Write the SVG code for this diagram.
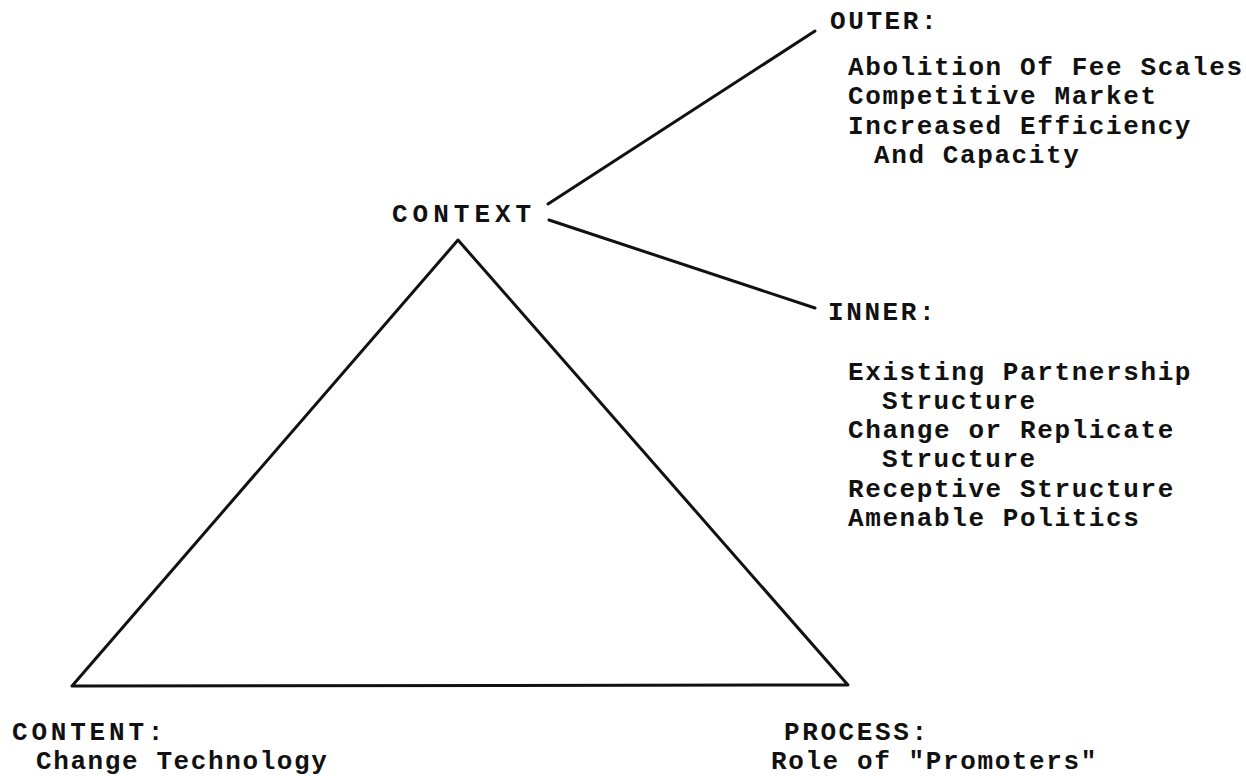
<svg xmlns="http://www.w3.org/2000/svg" width="1246" height="776" viewBox="0 0 1246 776">
<style>
text{font-family:"Liberation Mono","DejaVu Sans Mono",monospace;font-size:26px;font-weight:bold;fill:#111;letter-spacing:1.6px}
.h{letter-spacing:2.6px}
.h2{letter-spacing:3.8px}
.ctx{letter-spacing:5px}
.ln{fill:none;stroke:#111;stroke-width:3;stroke-linecap:round;stroke-linejoin:round}
</style>
<rect width="1246" height="776" fill="#fff"/>
<g id="connectors">
<path class="ln" d="M548,204 L815,31"/>
<path class="ln" d="M549,220 L815,308"/>
</g>
<g id="triangle">
<path class="ln" d="M458,240 L72,686 L848,685 Z"/>
</g>
<g id="context"><text class="ctx" x="392" y="222">CONTEXT</text></g>
<g id="outer">
<text class="h" x="830" y="29">OUTER:</text>
<text x="848" y="75">Abolition Of Fee Scales</text>
<text x="848" y="104">Competitive Market</text>
<text x="848" y="134">Increased Efficiency</text>
<text x="874" y="163">And Capacity</text>
</g>
<g id="inner">
<text class="h" x="828" y="320">INNER:</text>
<text x="848" y="380">Existing Partnership</text>
<text x="882" y="409">Structure</text>
<text x="848" y="438">Change or Replicate</text>
<text x="882" y="467">Structure</text>
<text x="848" y="497">Receptive Structure</text>
<text x="848" y="526">Amenable Politics</text>
</g>
<g id="content">
<text class="h2" x="12" y="740">CONTENT:</text>
<text x="36" y="769">Change Technology</text>
</g>
<g id="process">
<text class="h" x="784" y="740">PROCESS:</text>
<text x="771" y="769">Role of "Promoters"</text>
</g>
</svg>
